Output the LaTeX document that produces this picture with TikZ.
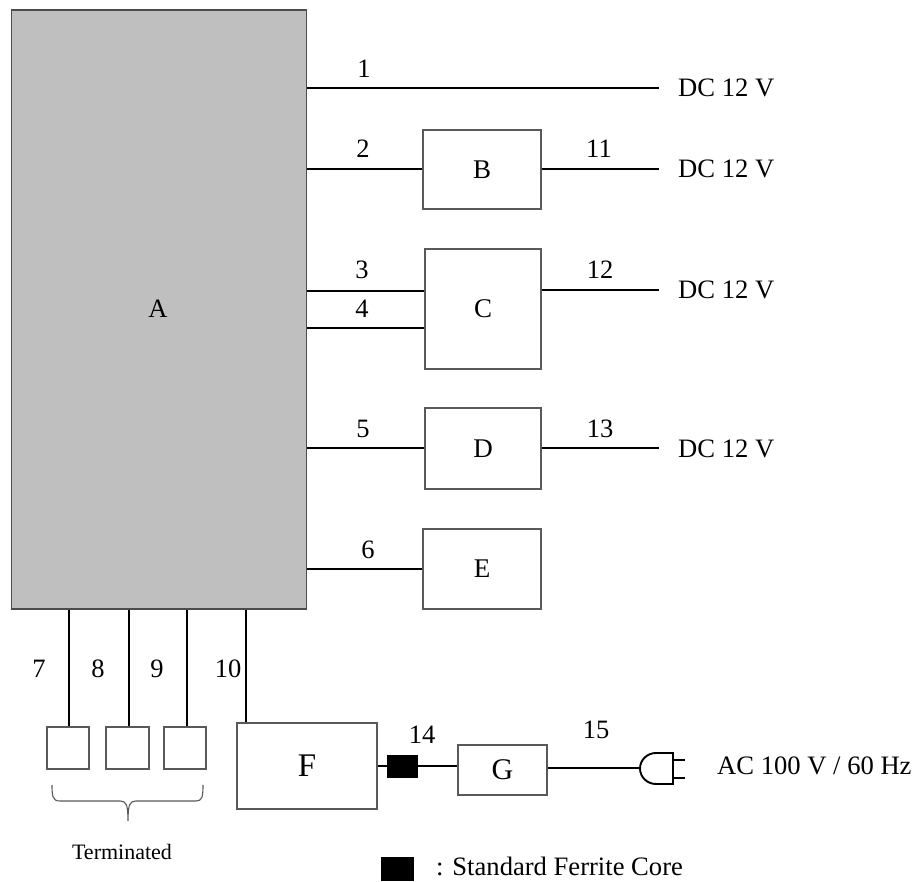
\documentclass[tikz,border=0pt]{standalone}
\usepackage{fontspec}
\setmainfont{Liberation Serif}
\begin{document}
\begin{tikzpicture}[x=1pt,y=-1pt,
  boxnode/.style={draw=black!65,line width=1.1pt,inner sep=0pt,font=\fontsize{27}{31}\selectfont},
  lbl/.style={inner sep=0pt,font=\fontsize{26.5}{30}\selectfont},
  widelbl/.style={inner sep=0pt,font=\fontsize{26.6}{30}\selectfont},
  wire/.style={draw=black,line width=1.9pt},
  core/.style={fill=black,draw=black,inner sep=0pt}]
\useasboundingbox (0,0) rectangle (919,882);
\node[boxnode,fill=gray!50!white,draw=black!70,minimum width=295pt,minimum height=599pt] (A) at (159,309.5) {};
\node[lbl] (Alabel) at (158,309) {A};
\node[boxnode,minimum width=118pt,minimum height=79pt] (B) at (482,169.5) {B};
\node[boxnode,minimum width=116pt,minimum height=120pt] (C) at (483,309) {C};
\node[boxnode,minimum width=116pt,minimum height=81pt] (D) at (483,448.5) {D};
\node[boxnode,minimum width=118pt,minimum height=80pt] (E) at (482,569) {E};
\node[boxnode,minimum width=140pt,minimum height=86pt,font=\fontsize{33}{37}\selectfont] (F) at (307,766) {F};
\node[boxnode,minimum width=89pt,minimum height=50pt,font=\fontsize{30}{34}\selectfont] (G) at (502.5,770) {G};
\node[boxnode,minimum width=42pt,minimum height=42pt] (T1) at (68,748) {};
\node[boxnode,minimum width=43pt,minimum height=42pt] (T2) at (127.5,748) {};
\node[boxnode,minimum width=42pt,minimum height=42pt] (T3) at (185,748) {};
\node[core,minimum width=30pt,minimum height=22pt] (FC) at (402,766) {};
\node[core,minimum width=32pt,minimum height=23pt] (LG) at (397,869) {};
% free ends
\coordinate (E1) at (659,88);
\coordinate (E11) at (659,169);
\coordinate (E12) at (659,290);
\coordinate (E13) at (659,448);
\coordinate (Plug) at (640,768);
% connectors
\draw[wire] (A.east |- E1) -- (E1);
\draw[wire] (A.east |- E11) -- (B.west |- E11);
\draw[wire] (B.east |- E11) -- (E11);
\coordinate (C3) at (C.west |- 0,291);
\coordinate (C4) at (C.west |- 0,328);
\draw[wire] (A.east |- C3) -- (C3);
\draw[wire] (A.east |- C4) -- (C4);
\draw[wire] (C.east |- E12) -- (E12);
\draw[wire] (A.east |- E13) -- (D.west |- E13);
\draw[wire] (D.east |- E13) -- (E13);
\draw[wire] (A.east |- E.west) -- (E.west);
\draw[wire] (T1.north -| 69,0) -- (69,0 |- A.south);
\draw[wire] (T2.north -| 129,0) -- (129,0 |- A.south);
\draw[wire] (T3.north -| 187,0) -- (187,0 |- A.south);
\draw[wire] (F.north -| 246,0) -- (246,0 |- A.south);
\draw[wire] (F.east) -- (FC.west);
\draw[wire] (FC.east) -- (G.west |- FC.east);
\draw[wire] (G.east |- Plug) -- (Plug);
% plug
\draw[black,line width=1.9pt] (673,753) -- (656,753) arc[start angle=90,end angle=270,x radius=16,y radius=-15.5] -- (673,784) -- cycle;
\draw[black,line width=1.9pt] (673,760) -- (685,760) (673,778) -- (685,778);
% brace
\draw[black!65,line width=1.1pt] (52,785) .. controls (52,797) and (53,801) .. (60,801) -- (120,801) .. controls (126,801) and (128,804) .. (128,821) .. controls (128,804) and (130,801) .. (136,801) -- (196,801) .. controls (202,801) and (203,797) .. (203,785);
% labels
\node[lbl] (n1) at (364,69) {1};
\node[lbl] (n2) at (363,149) {2};
\node[lbl] (n3) at (362,270) {3};
\node[lbl] (n4) at (362,309) {4};
\node[lbl] (n5) at (363,429) {5};
\node[lbl] (n6) at (368,550) {6};
\node[lbl] (n7) at (39,669) {7};
\node[lbl] (n8) at (98,669) {8};
\node[lbl] (n9) at (157,669) {9};
\node[lbl] (n10) at (228,669) {10};
\node[lbl] (n11) at (599,149) {11};
\node[lbl] (n12) at (600,270) {12};
\node[lbl] (n13) at (600,429) {13};
\node[lbl] (n14) at (422,735) {14};
\node[lbl] (n15) at (596,730) {15};
\foreach \y/\n in {88/d1,169/d2,290/d3,449/d4}
  \node[widelbl,anchor=west] (\n) at (678,\y) {DC 12 V};
\node[widelbl,anchor=west] (ac) at (717,766) {AC 100 V / 60 Hz};
\node[inner sep=0pt,font=\fontsize{22}{26}\selectfont] (term) at (122,852) {Terminated};
\node[widelbl,anchor=west] (leg) at (436,866) {: Standard Ferrite Core};
\end{tikzpicture}
\end{document}
